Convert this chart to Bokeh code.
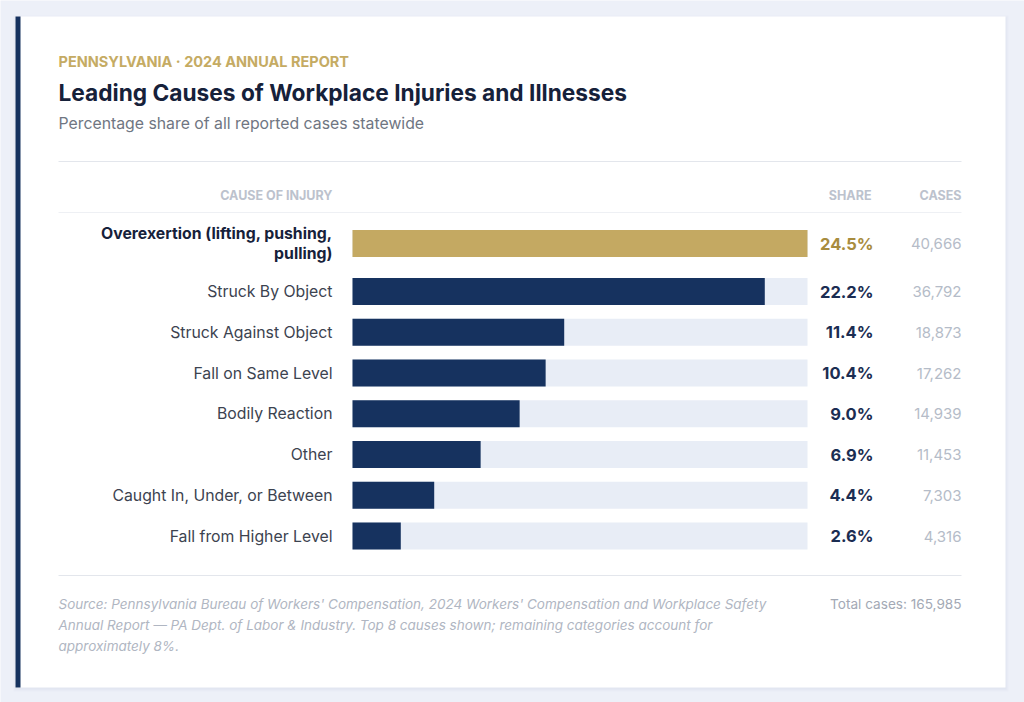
from bokeh.plotting import figure
from bokeh.models import Range1d, ColumnDataSource, Label
from bokeh.embed import file_html
from bokeh.resources import INLINE
from bokeh.core.properties import value

# --- data -------------------------------------------------------------------
causes = [
    "Overexertion (lifting, pushing,\npulling)",
    "Struck By Object",
    "Struck Against Object",
    "Fall on Same Level",
    "Bodily Reaction",
    "Other",
    "Caught In, Under, or Between",
    "Fall from Higher Level",
]
shares = [24.5, 22.2, 11.4, 10.4, 9.0, 6.9, 4.4, 2.6]
cases = [40666, 36792, 18873, 17262, 14939, 11453, 7303, 4316]
total_cases = 165985

# --- layout / style ---------------------------------------------------------
W, H = 1024, 702
FONT = "Inter"
PAGE_BG = "#edf0f8"
NAVY = "#16325f"
GOLD = "#c4a962"
TRACK = "#e8edf6"
INK = "#16213a"
LABEL = "#3c4350"
MUTED = "#b5bcc8"
RULE = "#e3e6ec"

TRACK_X0, TRACK_X1 = 352, 807
BAR_H = 27
FIRST_ROW_Y = 243
ROW_Y0 = 291
ROW_STEP = 40.75

share_max = max(shares)
px_per_unit = (TRACK_X1 - TRACK_X0) / share_max

p = figure(
    width=W, height=H,
    x_range=Range1d(0, W), y_range=Range1d(H, 0),
    output_backend="svg", toolbar_location=None,
    min_border=0, x_axis_location=None, y_axis_location=None,
)
p.grid.visible = False
p.outline_line_color = None
p.background_fill_color = PAGE_BG
p.border_fill_color = PAGE_BG

# share scale: 0 at the track start, the largest share at the track end
p.extra_x_ranges = {
    "share": Range1d(-TRACK_X0 / px_per_unit, (W - TRACK_X0) / px_per_unit)
}

# card with a soft shadow and a navy accent edge
for i, a in enumerate([0.025, 0.03, 0.035]):
    d = 3 - i
    p.quad(left=15 - d + 1, right=1005 + d, top=16 - d + 2, bottom=687 + d + 1,
           fill_color="#8a94b0", fill_alpha=a, line_color=None)
p.quad(left=15, right=1005, top=16, bottom=687, fill_color="white", line_color=None)
p.quad(left=15, right=20, top=16, bottom=687, fill_color=NAVY, line_color=None)


def label(x, y, text, size, color, style="normal", align="left", font=FONT):
    p.add_layout(Label(x=x, y=y, text=text, text_font=font,
                       text_font_size=f"{size}px", text_color=color,
                       text_font_style=style, text_align=align,
                       text_baseline="middle"))


# header texts
label(58, 61, "PENNSYLVANIA · 2024 ANNUAL REPORT", 14.5, "#c5ab63", "bold")
label(58, 92, "Leading Causes of Workplace Injuries and Illnesses", 22.7, INK, "bold")
label(58, 123, "Percentage share of all reported cases statewide", 15.8, "#6f7682")

p.segment(x0=58, x1=961, y0=161, y1=161, line_color=RULE, line_width=1)
label(332, 195, "CAUSE OF INJURY", 12.5, "#bcc2cd", "bold", "right")
label(871, 195, "SHARE", 12.5, "#bcc2cd", "bold", "right")
label(961, 195, "CASES", 12.5, "#bcc2cd", "bold", "right")
p.segment(x0=58, x1=961, y0=212, y1=212, line_color="#eef0f4", line_width=1)

# rows
ys = [FIRST_ROW_Y] + [ROW_Y0 + ROW_STEP * i for i in range(len(causes) - 1)]
top_idx = shares.index(share_max)
src = ColumnDataSource(dict(
    cause=causes,
    share=shares,
    zero=[0] * len(shares),
    full=[share_max] * len(shares),
    y=ys,
    share_txt=[f"{s:.1f}%" for s in shares],
    cases_txt=[f"{c:,}" for c in cases],
    bar_color=[GOLD if i == top_idx else NAVY for i in range(len(shares))],
    val_color=[("#a88c3e" if i == top_idx else "#1b2d52") for i in range(len(shares))],
    lab_color=[INK if i == top_idx else LABEL for i in range(len(shares))],
    lab_style=["bold" if i == top_idx else "normal" for i in range(len(shares))],
))

p.hbar(y="y", left="zero", right="full", height=BAR_H, source=src,
       x_range_name="share", fill_color=TRACK, line_color=None)
p.hbar(y="y", left="zero", right="share", height=BAR_H, source=src,
       x_range_name="share", fill_color="bar_color", line_color=None)

p.text(x=332, y="y", text="cause", source=src, text_font=value(FONT),
       text_font_size="15.8px", text_color="lab_color", text_font_style="lab_style",
       text_align="right", text_baseline="middle", text_line_height=1.1)
p.text(x=873, y="y", text="share_txt", source=src, text_font=value(FONT),
       text_font_size="16.5px", text_color="val_color", text_font_style="bold",
       text_align="right", text_baseline="middle")
p.text(x=961, y="y", text="cases_txt", source=src, text_font=value(FONT),
       text_font_size="15px", text_color=MUTED,
       text_align="right", text_baseline="middle")

# footer
p.segment(x0=58, x1=961, y0=575, y1=575, line_color=RULE, line_width=1)
src_lines = [
    "Source: Pennsylvania Bureau of Workers' Compensation, 2024 Workers' Compensation and Workplace Safety",
    "Annual Report — PA Dept. of Labor & Industry. Top 8 causes shown; remaining categories account for",
    "approximately 8%.",
]
for i, line in enumerate(src_lines):
    label(58, 603 + 21 * i, line, 13.5, "#b0b6c2", "italic")
label(961, 603, f"Total cases: {total_cases:,}", 13.6, "#a3a9b5", "normal", "right")

open("out.html", "w").write(file_html(p, INLINE))
